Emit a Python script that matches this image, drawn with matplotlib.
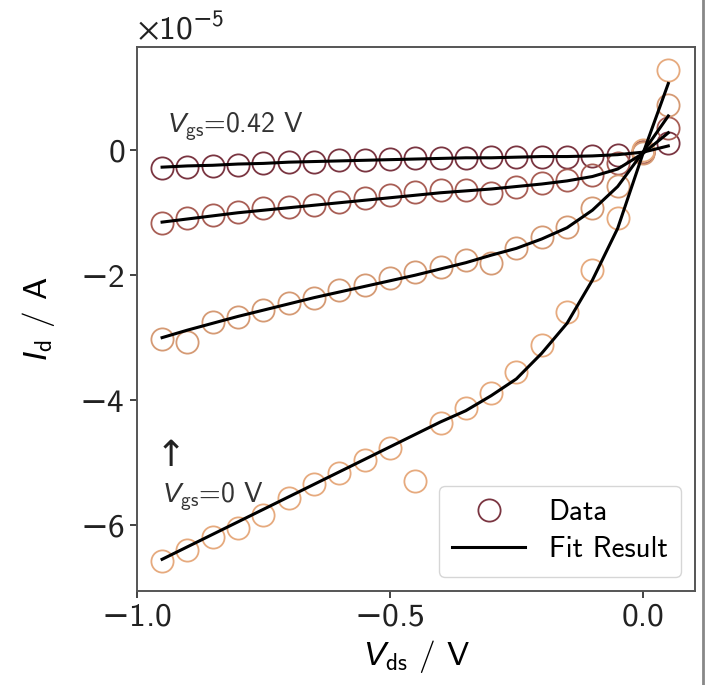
import numpy as np
import matplotlib
matplotlib.use('Agg')
import matplotlib.pyplot as plt
from matplotlib.lines import Line2D
from matplotlib.ticker import FuncFormatter

# drain voltage sweep (V)
vds = [-0.95, -0.90, -0.85, -0.80, -0.75, -0.70, -0.65, -0.60, -0.55, -0.50,
       -0.45, -0.40, -0.35, -0.30, -0.25, -0.20, -0.15, -0.10, -0.05, 0.00, 0.05]

# measured drain current, units of 1e-5 A
data_042 = [-0.28, -0.26, -0.25, -0.23, -0.21, -0.19, -0.18, -0.16, -0.15, -0.14,
            -0.13, -0.12, -0.12, -0.11, -0.11, -0.10, -0.10, -0.09, -0.07, -0.03, 0.11]
data_2 = [-1.16, -1.09, -1.04, -0.99, -0.93, -0.91, -0.88, -0.83, -0.77, -0.72,
          -0.67, -0.64, -0.64, -0.69, -0.59, -0.53, -0.48, -0.40, -0.21, -0.02, 0.35]
data_3 = [-3.02, -3.07, -2.75, -2.67, -2.56, -2.45, -2.37, -2.24, -2.16, -2.05,
          -1.95, -1.87, -1.76, -1.81, -1.57, -1.39, -1.23, -0.93, -0.57, -0.05, 0.72]
data_0 = [-6.58, -6.40, -6.19, -6.05, -5.84, -5.57, -5.35, -5.17, -4.96, -4.77,
          -5.30, -4.37, -4.13, -3.89, -3.55, -3.12, -2.59, -1.92, -1.09, 0.00, 1.28]

# fit results at the same voltages
fit_042 = [-0.27, -0.25, -0.24, -0.22, -0.21, -0.19, -0.18, -0.17, -0.16, -0.15,
           -0.14, -0.13, -0.12, -0.12, -0.11, -0.10, -0.10, -0.09, -0.07, -0.03, 0.07]
fit_2 = [-1.15, -1.10, -1.05, -1.00, -0.96, -0.92, -0.88, -0.84, -0.80, -0.76,
         -0.72, -0.68, -0.65, -0.62, -0.58, -0.54, -0.49, -0.42, -0.30, -0.05, 0.28]
fit_3 = [-3.00, -2.88, -2.77, -2.66, -2.56, -2.46, -2.36, -2.27, -2.18, -2.09,
         -2.00, -1.90, -1.80, -1.68, -1.57, -1.42, -1.24, -0.96, -0.58, -0.03, 0.55]
fit_0 = [-6.55, -6.35, -6.15, -5.95, -5.75, -5.55, -5.35, -5.15, -4.95, -4.75,
         -4.55, -4.35, -4.17, -3.93, -3.66, -3.25, -2.77, -2.08, -1.25, -0.05, 1.07]

colors = ['#7a3541', '#a85e55', '#d59a74', '#e6aa7e']
scale = 1e-5

plt.rcParams['font.family'] = ['cmss10', 'DejaVu Sans']
plt.rcParams['mathtext.fontset'] = 'custom'
plt.rcParams['mathtext.rm'] = 'cmss10'
plt.rcParams['mathtext.sf'] = 'DejaVu Sans'
plt.rcParams['mathtext.it'] = 'Liberation Sans:italic'
plt.rcParams['mathtext.fallback'] = 'stixsans'

MINUS = r'$\mathsf{-}$'

def fmt_x(v, pos):
  s = f'{abs(v):.1f}'
  return MINUS + s if v < -1e-9 else s

def fmt_y(v, pos):
  n = int(round(v / scale))
  return MINUS + str(abs(n)) if n < 0 else str(n)

fig = plt.figure(figsize=(7.05, 6.85), dpi=100)
ax = fig.add_axes([0.194, 0.137, 0.792, 0.794])

x = np.array(vds)
series = [(data_042, fit_042), (data_2, fit_2), (data_3, fit_3), (data_0, fit_0)]
for i, (d, f) in enumerate(series):
  ax.plot(x, np.array(d) * scale, 'o', ms=16, mfc='none', mec=colors[i], mew=1.3,
          label='Data' if i == 0 else None, zorder=2)
for i, (d, f) in enumerate(series):
  ax.plot(x, np.array(f) * scale, '-', color='black', lw=2.2,
          label='Fit Result' if i == 0 else None, zorder=3)

ax.set_xlim(-1.0, 0.103)
ax.set_ylim(-7.06e-5, 1.65e-5)
ax.set_xticks([-1.0, -0.5, 0.0])
ax.set_yticks([-6e-5, -4e-5, -2e-5, 0])
ax.xaxis.set_major_formatter(FuncFormatter(fmt_x))
ax.yaxis.set_major_formatter(FuncFormatter(fmt_y))
ax.tick_params(labelsize=24, length=5, width=1.2, colors='#222222')
ax.text(0.0, 1.004, r'$\times10^{\mathsf{-}5}$', transform=ax.transAxes, fontsize=24,
        ha='left', va='bottom', color='#222222')

for s in ax.spines.values():
  s.set_color('#555555')
  s.set_linewidth(1.4)

ax.set_xlabel(r'$V_{\rm ds}$ / V', fontsize=24, labelpad=4)
ax.set_ylabel(r'$I_{\rm d}$ / A', fontsize=24, labelpad=16)

ax.text(-0.94, 0.12e-5, r'$V_{\rm gs}$=0.42 V', fontsize=20, va='bottom', ha='left', color='#333333')
ax.text(-0.933, -4.9e-5, '↑', fontsize=26, va='center', ha='center', color='#222222',
        family='DejaVu Sans')
ax.text(-0.95, -5.55e-5, r'$V_{\rm gs}$=0 V', fontsize=20, va='center', ha='left', color='#333333')

leg = ax.legend(loc='lower right', fontsize=21, handlelength=2.5, borderpad=0.45,
                labelspacing=0.35, handletextpad=0.8, borderaxespad=0.5)
leg.get_frame().set_edgecolor('#cccccc')

fig.add_artist(Line2D([0.997, 0.997], [0, 1], color='#888888', lw=2))

plt.savefig('out.png', dpi=100)
